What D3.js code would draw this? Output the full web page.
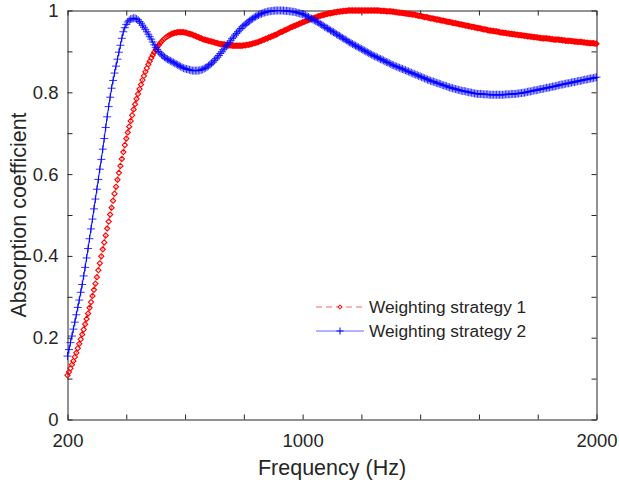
<!DOCTYPE html>
<html><head><meta charset="utf-8">
<script src="https://cdn.jsdelivr.net/npm/d3@7"></script>
<style>body{margin:0;background:#fff}svg{display:block}text{font-family:"Liberation Sans",Arial,sans-serif;fill:#262626}</style>
</head><body>
<svg id="c" width="619" height="485"></svg>
<script>
// Frequency grid: 200 Hz to 2000 Hz, 5 Hz step
const freqStart = 200, freqEnd = 2000, freqStep = 5;
const xTickValues = [200,400,600,800,1000,1200,1400,1600,1800,2000];
const xTickLabels = ["200","","","","1000","","","","","2000"];
const yTickValues = [0,0.1,0.2,0.3,0.4,0.5,0.6,0.7,0.8,0.9,1];
const yTickLabels = ["0","","0.2","","0.4","","0.6","","0.8","","1"];
const seriesNames = ["Weighting strategy 1","Weighting strategy 2"];

const strategy1 = [
.108,.116,.125,.134,.143,.153,.163,.174,.185,.196,
.208,.220,.233,.246,.259,.273,.287,.302,.317,.332,
.348,.365,.382,.399,.416,.433,.450,.467,.484,.501,
.518,.535,.552,.569,.586,.603,.620,.637,.654,.671,
.687,.702,.716,.730,.744,.758,.771,.784,.796,.808,
.819,.830,.840,.850,.859,.868,.876,.884,.891,.898,
.904,.910,.915,.920,.924,.928,.931,.934,.937,.939,
.941,.943,.944,.945,.946,.947,.947,.947,.947,.947,
.946,.945,.944,.943,.942,.941,.939,.938,.936,.935,
.933,.932,.930,.929,.928,.927,.926,.925,.924,.923,
.922,.921,.920,.919,.918,.918,.917,.917,.916,.916,
.915,.915,.914,.914,.914,.914,.914,.914,.914,.914,
.915,.915,.916,.916,.917,.918,.919,.920,.921,.922,
.923,.925,.926,.928,.929,.931,.932,.934,.935,.937,
.938,.940,.941,.943,.945,.947,.948,.950,.952,.953,
.955,.957,.959,.960,.962,.963,.965,.966,.968,.969,
.971,.972,.974,.975,.977,.978,.980,.981,.982,.983,
.985,.986,.987,.988,.989,.990,.991,.992,.993,.993,
.994,.995,.996,.996,.997,.997,.998,.998,.999,.999,
.999,1,1,1,1,1,1,1,1,1,
1,1,1,1,1,1,1,1,1,1,
1,1,1,.999,.999,.999,.999,.998,.998,.998,
.998,.997,.997,.996,.996,.995,.995,.994,.994,.993,
.993,.992,.992,.991,.991,.990,.990,.989,.988,.987,
.987,.986,.985,.984,.984,.983,.982,.981,.981,.980,
.979,.978,.978,.977,.976,.975,.975,.974,.973,.972,
.972,.971,.970,.969,.969,.968,.967,.966,.966,.965,
.964,.963,.963,.962,.961,.960,.960,.959,.958,.957,
.957,.956,.955,.954,.954,.953,.952,.951,.951,.950,
.950,.949,.949,.948,.947,.946,.946,.945,.945,.944,
.944,.943,.943,.942,.942,.941,.941,.940,.940,.939,
.939,.938,.938,.937,.937,.936,.936,.935,.935,.934,
.934,.933,.933,.932,.932,.932,.932,.931,.931,.930,
.930,.929,.929,.929,.929,.928,.928,.927,.927,.926,
.926,.926,.926,.925,.925,.924,.924,.923,.923,.923,
.923,.922,.922,.921,.921,.920,.920,.920,.920,.919,
.919];

const strategy2 = [
.155,.171,.188,.204,.221,.238,.256,.274,.292,.311,
.330,.351,.372,.395,.418,.442,.466,.490,.515,.539,
.563,.587,.612,.636,.661,.687,.714,.740,.765,.788,
.810,.829,.847,.864,.881,.898,.915,.932,.948,.958,
.966,.972,.976,.979,.980,.981,.981,.979,.977,.973,
.969,.964,.959,.954,.948,.942,.936,.930,.923,.916,
.910,.905,.900,.896,.892,.889,.886,.883,.881,.879,
.877,.875,.873,.871,.869,.867,.865,.863,.861,.859,
.858,.857,.856,.855,.854,.853,.853,.853,.853,.853,
.854,.855,.856,.858,.860,.862,.865,.868,.871,.874,
.878,.882,.886,.890,.895,.899,.904,.908,.913,.917,
.922,.926,.931,.935,.940,.944,.948,.952,.956,.960,
.963,.966,.969,.972,.975,.978,.980,.983,.985,.987,
.989,.991,.992,.994,.995,.996,.997,.998,.998,.999,
.999,1,1,1,1,1,1,1,.999,.999,
.999,.998,.998,.997,.997,.996,.995,.994,.993,.992,
.991,.990,.988,.986,.984,.982,.980,.978,.976,.974,
.972,.970,.967,.965,.963,.960,.958,.956,.954,.951,
.949,.947,.945,.942,.940,.938,.936,.933,.931,.929,
.927,.924,.922,.920,.918,.916,.914,.912,.910,.908,
.906,.904,.902,.900,.898,.896,.894,.892,.890,.888,
.887,.885,.883,.881,.880,.878,.876,.874,.873,.871,
.869,.867,.866,.864,.863,.861,.860,.858,.857,.855,
.854,.852,.851,.849,.848,.846,.845,.843,.842,.840,
.839,.837,.836,.834,.833,.831,.830,.828,.827,.826,
.825,.823,.822,.821,.820,.818,.817,.816,.815,.813,
.812,.811,.810,.809,.808,.807,.806,.805,.804,.803,
.803,.802,.801,.800,.800,.799,.798,.797,.797,.796,
.796,.796,.796,.795,.795,.795,.795,.794,.794,.794,
.794,.794,.794,.794,.794,.794,.794,.794,.795,.795,
.795,.795,.796,.796,.796,.796,.797,.797,.798,.798,
.799,.799,.800,.801,.802,.802,.803,.804,.805,.805,
.806,.807,.808,.808,.809,.810,.811,.811,.812,.813,
.814,.814,.815,.816,.817,.818,.819,.819,.820,.821,
.822,.822,.823,.824,.825,.825,.826,.827,.828,.828,
.829,.830,.831,.831,.832,.833,.834,.834,.835,.836,
.837];

const freqs = d3.range(freqStart, freqEnd + freqStep/2, freqStep);

const svg = d3.select("#c");
const L = 67.5, R = 596.5, T = 10.5, B = 419.5;
const x = d3.scaleLinear().domain([200, 2000]).range([L, R]);
const y = d3.scaleLinear().domain([0, 1]).range([B, T]);
const axisColor = "#262626";

// Axes (MATLAB style: box with inward ticks on all sides)
const tickLen = 5;
const axB = d3.axisBottom(x).tickValues(xTickValues).tickSize(-tickLen).tickSizeOuter(0).tickFormat((d,i)=>xTickLabels[i]).tickPadding(14);
const axT = d3.axisTop(x).tickValues(xTickValues).tickSize(-tickLen).tickSizeOuter(0).tickFormat("");
const axLft = d3.axisLeft(y).tickValues(yTickValues).tickSize(-tickLen).tickSizeOuter(0).tickFormat((d,i)=>yTickLabels[i]).tickPadding(9);
const axRt = d3.axisRight(y).tickValues(yTickValues).tickSize(-tickLen).tickSizeOuter(0).tickFormat("");

function style(g){
  g.select(".domain").attr("stroke", axisColor).attr("stroke-width", 1);
  g.selectAll(".tick line").attr("stroke", axisColor);
  g.selectAll(".tick text").attr("fill", axisColor).style("font-size","18.5px").style("font-family","'Liberation Sans',Arial,sans-serif");
}
svg.append("g").attr("transform",`translate(0,${B})`).call(axB).call(style);
svg.append("g").attr("transform",`translate(0,${T})`).call(axT).call(style);
svg.append("g").attr("transform",`translate(${L},0)`).call(axLft).call(style);
svg.append("g").attr("transform",`translate(${R},0)`).call(axRt).call(style);

// Series data
const d1 = freqs.map((f,i)=>({f, v: strategy1[i]}));
const d2 = freqs.map((f,i)=>({f, v: strategy2[i]}));
const line = d3.line().x(d=>x(d.f)).y(d=>y(d.v));

const red = "#ff0000", blue = "#0000ff";
const diamond = (cx, cy, r) => `M${cx},${cy-r}L${cx+r},${cy}L${cx},${cy+r}L${cx-r},${cy}Z`;
const plus = (cx, cy, r) => `M${cx-r},${cy}H${cx+r}M${cx},${cy-r}V${cy+r}`;

// Strategy 1 (red dashed with diamond markers)
const g1 = svg.append("g");
g1.append("path").attr("d", line(d1)).attr("fill","none").attr("stroke",red).attr("stroke-opacity",0.6).attr("stroke-dasharray","6,4");
g1.append("path").attr("d", d1.map(d=>diamond(x(d.f), y(d.v), 2.6)).join(""))
  .attr("fill","none").attr("stroke",red).attr("stroke-width",1.1);

// Strategy 2 (blue solid with plus markers)
const g2 = svg.append("g");
g2.append("path").attr("d", line(d2)).attr("fill","none").attr("stroke",blue).attr("stroke-width",1);
g2.append("path").attr("d", d2.map(d=>plus(x(d.f), y(d.v), 4)).join(""))
  .attr("fill","none").attr("stroke",blue).attr("stroke-width",1).attr("stroke-opacity",0.8);

// Axis labels
svg.append("text").attr("x", (L+R)/2).attr("y", 475).attr("text-anchor","middle").style("font-size","21.5px").text("Frequency (Hz)");
svg.append("text").attr("transform",`translate(26,${(T+B)/2}) rotate(-90)`).attr("text-anchor","middle").style("font-size","21.5px").text("Absorption coefficient");

// Legend
const lg = svg.append("g");
const rows = [{name: seriesNames[0], yy: 307}, {name: seriesNames[1], yy: 331}];
lg.append("line").attr("x1",316).attr("x2",364).attr("y1",rows[0].yy).attr("y2",rows[0].yy)
  .attr("stroke",red).attr("stroke-opacity",0.6).attr("stroke-dasharray","6,4");
lg.append("path").attr("d", diamond(340, rows[0].yy, 2.2)).attr("fill","none").attr("stroke",red);
lg.append("line").attr("x1",316).attr("x2",364).attr("y1",rows[1].yy).attr("y2",rows[1].yy)
  .attr("stroke",blue).attr("stroke-opacity",0.6);
lg.append("path").attr("d", plus(340, rows[1].yy, 3.5)).attr("fill","none").attr("stroke",blue);
rows.forEach(r=>{
  lg.append("text").attr("x",369).attr("y",r.yy).attr("dy","0.35em").style("font-size","17.3px").text(r.name);
});
</script>
</body></html>
